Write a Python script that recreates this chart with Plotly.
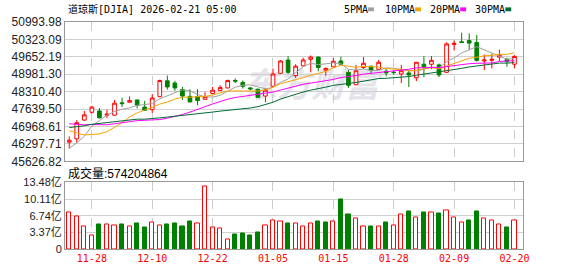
import plotly.graph_objects as go
import pandas as pd

# ---------------- data ----------------
dates = ["11-24","11-25","11-26","11-28","12-01","12-02","12-03","12-04","12-05","12-08",
         "12-09","12-10","12-11","12-12","12-15","12-16","12-17","12-18","12-19","12-22",
         "12-23","12-24","12-26","12-29","12-30","12-31","01-02","01-05","01-06","01-07",
         "01-08","01-09","01-12","01-13","01-14","01-15","01-16","01-20","01-21","01-22",
         "01-23","01-26","01-27","01-28","01-29","01-30","02-02","02-03","02-04","02-05",
         "02-06","02-09","02-10","02-11","02-12","02-13","02-17","02-18","02-19","02-20"]

opens = [46365,46490,47216,47516,47566,47403,47403,47880,47903,47991,
         47716,47616,48116,48729,48642,48392,48129,48116,48016,48242,
         48354,48454,48742,48667,48454,48404,48141,48517,49017,49530,
         48930,49305,49555,49643,49142,49267,49493,49055,48580,49242,
         49292,49167,49100,49060,48992,49030,48842,49367,49367,49342,
         49055,50130,50231,50281,50206,49493,49518,49643,49555,49367]
highs = [46590,47216,47566,47766,47679,47616,47991,48079,48129,48000,
         47954,48216,48770,48930,48729,48492,48404,48404,48292,48492,
         48554,48770,48817,48742,48492,48430,48429,49205,49530,49680,
         49367,49618,49705,49660,49242,49618,49655,49142,49342,49643,
         49300,49530,49205,49150,49342,49117,49455,49680,49680,49392,
         50206,50281,50581,50556,50494,49743,49768,49930,49618,49718]
lows = [46115,46340,47190,47466,47278,47290,47390,47716,47895,47666,
        47566,47491,48100,48392,48342,47991,47891,47791,48000,48230,
        48340,48440,48642,48429,48367,48080,47904,48500,49000,48992,
        48842,49290,49055,49092,48930,49250,49355,48454,48570,49180,
        48992,49155,48905,48960,48642,48492,48717,48867,49180,48867,
        49040,49893,50200,49930,49468,49142,49205,49493,49267,49205]
closes = [46440,47116,47416,47716,47303,47441,47866,47850,47966,47791,
          47591,48066,48742,48492,48454,48141,47916,47966,48116,48367,
          48467,48742,48717,48517,48417,48091,48367,48992,49493,49055,
          49292,49530,49643,49242,49205,49480,49367,48554,49117,49405,
          49142,49443,49030,49045,49117,48955,49443,49267,49518,48955,
          50150,50170,50206,50181,49518,49530,49555,49718,49468,49668]
# volume in 亿 (1e8)
last_volume = 574204864
volumes = [7.43,6.64,4.54,2.76,4.93,5.06,4.87,4.93,4.54,5.13,
           4.34,5.46,4.87,4.93,5.13,4.60,5.52,5.26,12.63,4.27,
           4.08,1.91,2.96,3.16,2.76,3.35,4.73,5.85,5.52,5.13,
           5.13,4.54,5.13,5.52,5.33,5.52,10.06,6.90,6.12,4.54,
           4.54,4.54,5.33,4.73,6.90,7.69,6.31,7.50,7.50,7.10,
           7.89,6.31,5.33,5.72,7.69,6.12,5.72,4.93,4.34,last_volume / 1e8]
# closes before the window (used to seed the moving averages)
prior_close = [46270,46253,45952,46191,46707,46925,46590,46735,47207,47545,
               47706,47632,47522,47563,47337,47085,47311,46912,46987,47369,
               47928,48255,47457,47147,46590,46092,46139,45752,46245]

price_ticks = [45626.82,46297.71,46968.61,47639.50,48310.40,48981.30,49652.19,50323.09,50993.98]
vol_ticks = [0,3.37,6.74,10.11,13.48]
vol_tick_text = ["0","3.37亿","6.74亿","10.11亿","13.48亿"]
date_ticks = ["11-28","12-10","12-22","01-05","01-15","01-28","02-09","02-20"]
ma_periods = [5,10,20,30]
ma_names = ["5PMA","10PMA","20PMA","30PMA"]
ma_colors = ["#a0a0a0","#f5a300","#ff00ff","#006b32"]
title_text = "道琼斯[DJIA] 2026-02-21 05:00"

# ---------------- figure ----------------
W, H = 578, 276
ML, MR, MT, MB = 56, 55, 22, 21
PW, PH = W - ML - MR, H - MT - MB

def px(x):
    return (x - ML) / PW

def py(y):
    return (H - MB - y) / PH

RED, GREEN = "#ff0000", "#008000"
idx = list(range(len(dates)))

fig = go.Figure()

fig.add_trace(go.Candlestick(
    x=idx, open=opens, high=highs, low=lows, close=closes,
    increasing=dict(line=dict(color=RED, width=1), fillcolor="white"),
    decreasing=dict(line=dict(color=GREEN, width=1), fillcolor=GREEN),
    whiskerwidth=0, showlegend=False, hoverinfo="skip",
    xaxis="x", yaxis="y"))

allc = pd.Series(prior_close + closes, dtype=float)
n0 = len(prior_close)
for p, name, col in zip(ma_periods, ma_names, ma_colors):
    ma = allc.rolling(p).mean().iloc[n0:].tolist()
    fig.add_trace(go.Scatter(x=idx, y=ma, mode="lines", name=name,
                             line=dict(color=col, width=1), showlegend=False,
                             hoverinfo="skip", xaxis="x", yaxis="y"))

prev = [prior_close[-1]] + closes[:-1]
up = [c >= pc for c, pc in zip(closes, prev)]
fig.add_trace(go.Bar(
    x=idx, y=volumes, width=0.55,
    marker=dict(color=["white" if u else GREEN for u in up],
                line=dict(color=[RED if u else GREEN for u in up], width=1)),
    showlegend=False, hoverinfo="skip", xaxis="x2", yaxis="y2"))

xr = [-0.56, 60.13]
tick_idx = [dates.index(d) for d in date_ticks]
common_x = dict(range=xr, showgrid=True, gridcolor="#cccccc", griddash="dash", gridwidth=1,
                tickvals=tick_idx, ticktext=date_ticks, showline=True, mirror=True,
                linecolor="#999999", linewidth=1, zeroline=False, ticks="",
                fixedrange=True)

fig.update_layout(
    width=W, height=H, margin=dict(l=ML, r=MR, t=MT, b=MB),
    paper_bgcolor="white", plot_bgcolor="white",
    bargap=0, showlegend=False,
    xaxis=dict(**common_x, domain=[0, 1], anchor="y", showticklabels=False,
               rangeslider=dict(visible=False)),
    xaxis2=dict(**common_x, domain=[0, 1], anchor="y2", showticklabels=True,
                tickfont=dict(family="DejaVu Sans Mono", size=10, color=RED)),
    yaxis=dict(domain=[py(165), 1], range=[price_ticks[0], price_ticks[-1]],
               tickvals=price_ticks, ticktext=[f"{v:.2f}" for v in price_ticks],
               showgrid=True, gridcolor="#d0d0d0", gridwidth=1, zeroline=False,
               showline=True, mirror=True, linecolor="#999999", linewidth=1,
               tickfont=dict(family="Liberation Sans", size=12, color="#222222"),
               ticks="", fixedrange=True),
    yaxis2=dict(domain=[0, py(186.7)], range=[vol_ticks[0], vol_ticks[-1]],
                tickvals=vol_ticks, ticktext=vol_tick_text,
                showgrid=True, gridcolor="#d0d0d0", gridwidth=1, zeroline=False,
                showline=True, mirror=True, linecolor="#999999", linewidth=1,
                tickfont=dict(family="Liberation Sans, Noto Sans CJK SC", size=11, color="#222222"),
                ticks="", fixedrange=True),
)

# watermark (below traces)
fig.add_shape(type="rect", xref="paper", yref="paper",
              x0=px(236), x1=px(378), y0=py(107), y1=py(72),
              line=dict(width=0), fillcolor="rgba(0,0,0,0)", layer="below",
              label=dict(text="<b><i>东方财富</i></b>",
                         font=dict(family="Noto Sans CJK SC", size=34, color="#e4e4ea")))

# title
fig.add_annotation(xref="paper", yref="paper", x=px(57), y=py(9), xanchor="left",
                   yanchor="middle", text=title_text, showarrow=False,
                   font=dict(family="DejaVu Sans Mono, Noto Sans CJK SC", size=10, color="#000000"))

# legend
leg_text_x = [338, 380, 426, 472]
leg_box_x = [365, 413, 459, 505]
for name, col, tx, bx in zip(ma_names, ma_colors, leg_text_x, leg_box_x):
    fig.add_annotation(xref="paper", yref="paper", x=px(tx), y=py(9), xanchor="left",
                       yanchor="middle", text=name, showarrow=False,
                       font=dict(family="DejaVu Sans Mono", size=10, color="#000000"))
    fig.add_shape(type="rect", xref="paper", yref="paper",
                  x0=px(bx), x1=px(bx + 6), y0=py(11), y1=py(7),
                  line=dict(width=0), fillcolor=col)

# volume label
fig.add_annotation(xref="paper", yref="paper", x=px(57), y=py(177), xanchor="left",
                   yanchor="middle", text=f"成交量:{last_volume}", showarrow=False,
                   font=dict(family="Liberation Sans, Noto Sans CJK SC", size=12, color="#000000"))

fig.write_html("out.html")
